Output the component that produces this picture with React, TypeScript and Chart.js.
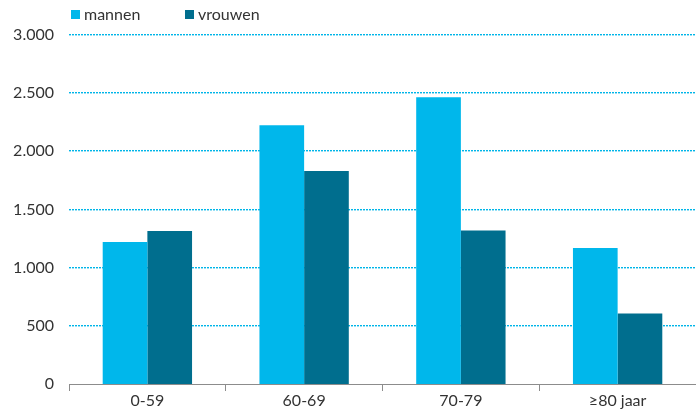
import React, { useEffect, useRef } from "react";
import { Chart, registerables } from "chart.js";

Chart.register(...registerables);

const categories = ["0-59", "60-69", "70-79", "≥80 jaar"];
const mannen = [1220, 2225, 2465, 1170];
const vrouwen = [1315, 1830, 1320, 605];
const seriesLabels = ["mannen", "vrouwen"];
const yTicks = [0, 500, 1000, 1500, 2000, 2500, 3000];

const LIGHT = "#00b7eb";
const DARK = "#006e8e";
const GRID = "#00b5e8";
const GRID_SOFT = "rgba(0,181,232,0.4)";
const FONT = "Lato, 'Open Sans', sans-serif";

function fmt(v: number): string {
  return String(v).replace(/\B(?=(\d{3})+(?!\d))/g, ".");
}

const legendPlugin = {
  id: "customLegend",
  afterDraw(chart: any) {
    const ctx = chart.ctx;
    const positions = [71, 185];
    ctx.save();
    ctx.font = `16px ${FONT}`;
    ctx.textBaseline = "middle";
    chart.data.datasets.forEach((ds: any, i: number) => {
      const x = positions[i];
      ctx.fillStyle = ds.backgroundColor;
      ctx.fillRect(x, 10, 9, 9);
      ctx.fillStyle = "#333333";
      ctx.textAlign = "left";
      ctx.fillText(ds.label, x + 13, 15);
    });
    ctx.restore();
  },
};

const gridPlugin = {
  id: "dottedGrid",
  beforeDatasetsDraw(chart: any) {
    const ctx = chart.ctx;
    const y = chart.scales.y;
    const area = chart.chartArea;
    ctx.save();
    y.ticks.forEach((t: any) => {
      if (t.value === 0) return;
      const py = Math.round(y.getPixelForValue(t.value)) - 1;
      for (let x = Math.round(area.left); x < area.right; x += 3) {
        ctx.fillStyle = GRID;
        ctx.fillRect(x, py, 2, 1);
        ctx.fillStyle = GRID_SOFT;
        ctx.fillRect(x, py + 1, 2, 1);
      }
    });
    ctx.restore();
  },
};

export default function App() {
  const ref = useRef<HTMLCanvasElement | null>(null);

  useEffect(() => {
    document.body.style.margin = "0";
    const canvas = ref.current;
    if (!canvas) return;
    const chart = new Chart(canvas, {
      type: "bar",
      data: {
        labels: categories,
        datasets: [
          {
            label: seriesLabels[0],
            data: mannen,
            backgroundColor: LIGHT,
            categoryPercentage: 0.57,
            barPercentage: 1,
          },
          {
            label: seriesLabels[1],
            data: vrouwen,
            backgroundColor: DARK,
            categoryPercentage: 0.57,
            barPercentage: 1,
          },
        ],
      },
      options: {
        responsive: false,
        animation: false,
        layout: { padding: { top: 35, right: -4, bottom: 0, left: 0 } },
        plugins: {
          legend: { display: false },
          tooltip: { enabled: false },
        },
        scales: {
          x: {
            grid: {
              display: true,
              drawOnChartArea: false,
              drawTicks: true,
              tickLength: 7,
              color: "#8c8c8c",
              offset: true,
            },
            border: { display: true, color: "#8c8c8c", width: 1 },
            ticks: {
              color: "#333333",
              font: { family: FONT, size: 16 },
              padding: 0,
            },
            afterFit(scale: any) {
              scale.height = 33;
            },
          },
          y: {
            min: 0,
            max: 3000,
            afterBuildTicks(scale: any) {
              scale.ticks = yTicks.map((v) => ({ value: v }));
            },
            grid: { display: false, drawTicks: false },
            border: { display: false },
            ticks: {
              color: "#333333",
              font: { family: FONT, size: 16 },
              padding: 15,
              callback: (v: any) => fmt(Number(v)),
            },
            afterFit(scale: any) {
              scale.width = 69;
            },
          },
        },
      },
      plugins: [gridPlugin, legendPlugin],
    });
    return () => chart.destroy();
  }, []);

  return <canvas ref={ref} width={696} height={417} style={{ display: "block" }} />;
}
